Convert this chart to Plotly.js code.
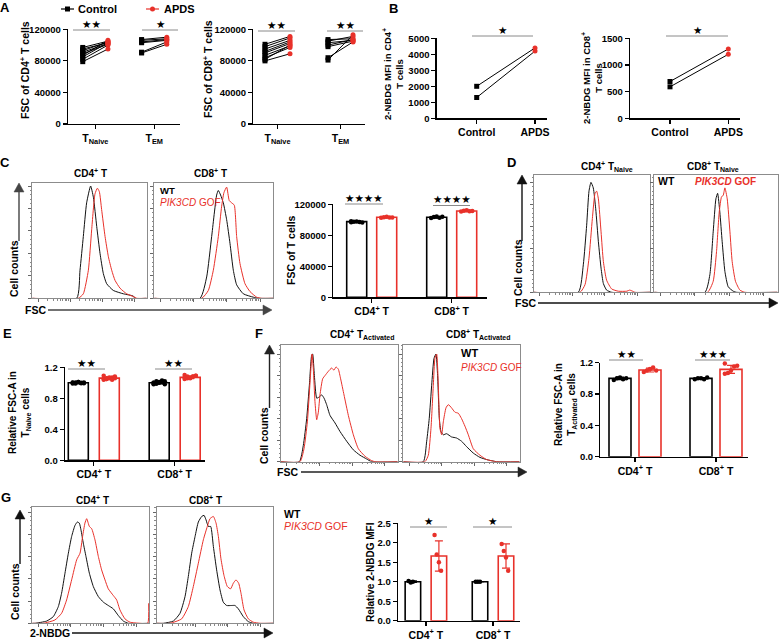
<!DOCTYPE html>
<html><head><meta charset="utf-8">
<script src="https://cdn.plot.ly/plotly-3.0.1.min.js"></script>
<style>html,body{margin:0;padding:0;background:#fff}</style>
</head><body><div id="chart" style="width:779px;height:640px"></div>
<script>
// ================= DATA =================
const aCats = ['T<sub>Naive</sub>', 'T<sub>EM</sub>'];
const aCd4NaiveCtrl = [97000, 95000, 93000, 91000, 89000, 87000, 85000, 82000, 79000];
const aCd4NaiveApds = [105000, 103000, 104000, 102000, 101000, 106000, 103000, 100000, 95000];
const aCd4EmCtrl = [107000, 106000, 104000, 103000, 91000, 90000];
const aCd4EmApds = [110000, 108000, 107000, 106000, 104000, 101000];
const aCd8NaiveCtrl = [101000, 98000, 95000, 92000, 90000, 87000, 84000, 82000, 80000];
const aCd8NaiveApds = [111000, 109000, 106000, 104000, 102000, 99000, 97000, 100000, 89000];
const aCd8EmCtrl = [107000, 105000, 103000, 100000, 98000, 84000, 81000];
const aCd8EmApds = [108000, 111000, 106000, 107000, 105000, 104000, 113000];
const aTicks = [0, 40000, 80000, 120000];
const bCats = ['Control', 'APDS'];
const bCd4Ctrl = [2000, 1300];
const bCd4Apds = [4400, 4200];
const bCd8Ctrl = [690, 590];
const bCd8Apds = [1300, 1200];
const bCd4Ticks = [0, 1000, 2000, 3000, 4000, 5000];
const bCd8Ticks = [0, 500, 1000, 1500];
const barCats = ['CD4<sup>+</sup> T', 'CD8<sup>+</sup> T'];
const cWtMean = [97600, 103200], cWtSd = [900, 1000];
const cGofMean = [103200, 111400], cGofSd = [900, 900];
const cCd4WtPts = [96800, 97400, 97900, 97200, 96600, 98200];
const cCd4GofPts = [102500, 103400, 103800, 102900, 103100];
const cCd8WtPts = [102200, 103500, 104300, 102800, 103900];
const cCd8GofPts = [110600, 111800, 112300, 110900, 111400];
const cTicks = [0, 40000, 80000, 120000];
const eWtMean = [1.0, 1.0], eWtSd = [0.01, 0.015];
const eGofMean = [1.06, 1.07], eGofSd = [0.015, 0.015];
const eCd4WtPts = [0.99, 1.0, 1.01, 0.995, 1.005, 1.0, 0.99, 1.01, 1.0, 0.995, 1.005, 1.0];
const eCd4GofPts = [1.04, 1.05, 1.06, 1.07, 1.08, 1.05, 1.06, 1.07, 1.04, 1.06, 1.09, 1.05];
const eCd8WtPts = [0.98, 0.99, 1.0, 1.01, 1.02, 1.0, 0.99, 1.01, 1.03, 0.98, 1.0, 1.02];
const eCd8GofPts = [1.05, 1.06, 1.07, 1.08, 1.09, 1.1, 1.07, 1.06, 1.08, 1.09, 1.07, 1.08];
const eTicks = [0, 0.4, 0.8, 1.2], eTickText = ['0.0', '0.4', '0.8', '1.2'];
const fWtMean = [1.0, 1.0], fWtSd = [0.015, 0.01];
const fGofMean = [1.106, 1.115], fGofSd = [0.025, 0.05];
const fCd4WtPts = [0.98, 1.0, 1.01, 0.99, 1.0];
const fCd4GofPts = [1.08, 1.1, 1.12, 1.14, 1.1];
const fCd8WtPts = [0.99, 1.0, 1.0, 0.99, 1.01];
const fCd8GofPts = [1.06, 1.07, 1.10, 1.15, 1.16, 1.19];
const fTicks = [0, 0.4, 0.8, 1.2], fTickText = ['0.0', '0.4', '0.8', '1.2'];
const gWtMean = [1.0, 1.0], gWtSd = [0.02, 0.0];
const gGofMean = [1.66, 1.66], gGofSd = [0.39, 0.31];
const gCd4WtPts = [1.02, 0.98, 1.0];
const gCd4GofPts = [2.2, 1.7, 1.5, 1.28];
const gCd8WtPts = [1.0, 1.0, 1.0];
const gCd8GofPts = [1.97, 1.79, 1.62, 1.28];
const gTicks = [0, 0.5, 1, 1.5, 2, 2.5], gTickText = ['0.0', '0.5', '1.0', '1.5', '2.0', '2.5'];
const cCd4WtX = [0,38.8,41.7,44.6,47.5,51.0,53.4,56.3,59.2,62.1,65.0,70.8,79.6,88.3,89.8,100];
const cCd4WtY = [0,0,25,55,85,100,90,64,40,22,13,7,4,2,0,0];
const cCd4GofX = [0,40.2,44.6,49.0,51.9,54.8,56.9,58.6,60.6,63.6,66.5,69.4,72.3,76.7,82.5,88.3,91.3,100];
const cCd4GofY = [0,0,4,25,61,93,98,95,79,55,37,25,16,9,4,1.5,0,0];
const cCd8WtX = [0,38.4,44.0,48.2,52.4,53.8,55.7,58.0,60.8,63.6,66.4,69.2,74.8,83.2,87.4,100];
const cCd8WtY = [0,0,19,55,92,96,92,85,70,49,25,12,4,1,0,0];
const cCd8GofX = [0,39.8,45.4,49.6,53.8,56.6,58.5,60.8,63.0,65.0,67.2,69.2,72.0,76.2,80.4,86.0,90.2,100];
const cCd8GofY = [0,0,7,25,55,82,94,99,87,85,83,55,31,13,6,1,0,0];
const dCd4WtX = [0,38.2,42.5,45.4,47.4,49.1,51.1,53.2,55.5,57.8,59.8,62.6,67.0,100];
const dCd4WtY = [0,0,25,61,92,100,95,76,46,22,8,2,0,0];
const dCd4GofX = [0,39.7,44.0,47.4,50.3,52.6,54.0,55.5,57.8,59.8,62.6,67.0,72.7,80.0,82.5,85.0,87.0,100];
const dCd4GofY = [0,0,7,31,67,90,92,85,55,28,11,3,1,1,2,1,0,0];
const dCd8WtX = [0,41.1,45.1,47.8,50.0,51.4,53.2,55.1,57.3,60.0,64.1,66.8,100];
const dCd8WtY = [0,0,16,55,85,90,73,46,19,5,1,0,0];
const dCd8GofX = [0,43.2,47.8,50.5,52.7,54.6,55.9,57.3,59.2,61.4,63.2,65.9,69.5,73.5,100];
const dCd8GofY = [0,0,10,37,73,87,88,95,85,55,28,10,2,0,0];
const fCd4WtX = [0,15.7,19.1,22.0,24.3,26.3,27.1,28.6,30.6,32.6,34.9,36.9,39.1,42.0,46.3,50.6,56.3,62.0,67.7,73.4,77.7,100];
const fCd4WtY = [0,0,15,40,71,99,100,80,59,60,62,59,53,43,36,28,19,11,6,2.5,0,0];
const fCd4GofX = [0,16.3,19.7,22.6,24.9,26.6,27.7,29.1,30.6,32.0,33.4,35.7,37.7,40.6,43.4,45.4,47.1,49.1,51.1,54.0,57.7,62.0,66.3,72.0,77.7,80.6,100];
const fCd4GofY = [0,0,12,37,74,100,86,56,39,46,62,77,80,84,87,85,88,86,77,62,43,25,12,5,1,0,0];
const fCd8WtX = [0,17.2,20.1,22.3,24.4,26.4,28.1,29.5,31.0,32.4,34.4,37.2,41.5,45.8,50.1,54.4,60.2,65.9,71.6,80.2,100];
const fCd8WtY = [0,0,19,40,71,96,100,80,40,28,25,26,23,22,19,14,8,4,2,0,0];
const fCd8GofX = [0,18.6,21.5,23.8,25.8,27.2,28.7,30.1,31.5,33.0,34.4,36.7,38.7,41.5,44.4,47.3,50.1,53.0,55.9,60.2,65.9,71.6,80.2,100];
const fCd8GofY = [0,0,6,31,71,96,100,71,31,25,37,50,53,50,46,45,40,33,25,12,6,2,0,0];
const gCd4WtX = [0,2.3,12.3,18.0,22.3,25.1,28.0,30.9,33.7,36.6,38.6,40.3,41.7,43.7,46.0,48.9,52.3,56.6,60.9,65.1,69.4,73.7,78.0,82.3,100];
const gCd4WtY = [0,0,2,6,15,27,45,63,78,88,91,90,84,72,60,45,33,24,19,16,13,7,2,0,0];
const gCd4GofX = [0,9.4,19.4,25.1,29.4,33.7,38.0,40.9,43.1,45.1,46.6,48.9,50.9,53.7,56.6,59.4,62.3,65.1,69.4,72.3,75.1,79.4,83.7,92.3,98.9,99.7];
const gCd4GofY = [0,0,3,9,21,39,57,63,78,90,94,87,85,75,60,48,39,31,25,21,12,4,1,0,0,18];
const gCd8WtX = [0,5.7,14.3,20.0,24.3,27.1,30.0,32.9,35.7,38.6,40.6,42.3,44.3,46.3,48.6,51.4,54.3,57.1,60.0,64.3,67.1,70.0,74.3,78.6,82.9,100];
const gCd8WtY = [0,0,2,9,24,42,63,78,91,96,97,93,87,87,69,48,30,19,16,16,16,13,6,1.5,0,0];
const gCd8GofX = [0,11.4,21.4,27.1,31.4,35.7,40.0,43.4,45.7,48.6,50.9,52.9,55.1,57.7,60.6,63.4,65.7,68.0,70.3,72.3,74.9,78.6,82.9,88.6,100];
const gCd8GofY = [0,0,4,15,33,54,75,87,94,96,90,78,58,43,33,31,36,39,36,27,12,4,1,0,0];

// ================= LAYOUT HELPERS =================
const W = 779, H = 640;
const RED = '#e8312a', BLK = '#000000';
const FONT = 'Liberation Sans, Arial, Helvetica, sans-serif';
const fx = p => p / W, fy = p => 1 - p / H;
const fontB = (s, c) => ({family: FONT, size: s, color: c || '#000', weight: 'bold'});
const fontN = (s, c) => ({family: FONT, size: s, color: c || '#000'});
const layout = {width: W, height: H, margin: {l: 0, r: 0, t: 0, b: 0}, paper_bgcolor: '#fff',
  plot_bgcolor: 'rgba(0,0,0,0)', showlegend: false, barmode: 'overlay',
  font: {family: FONT, color: '#000', size: 10}, shapes: [], annotations: []};
const traces = [];
const axKey = (n, a) => a + 'axis' + (n === 1 ? '' : n);
const ref = (n, a) => a + (n === 1 ? '' : n);
function setAxes(n, x0, x1, ytop, ybot, xo, yo) {
  layout[axKey(n, 'x')] = Object.assign({domain: [fx(x0), fx(x1)], anchor: ref(n, 'y'), showgrid: false, zeroline: false}, xo);
  layout[axKey(n, 'y')] = Object.assign({domain: [fy(ybot), fy(ytop)], anchor: ref(n, 'x'), showgrid: false, zeroline: false}, yo);
}
const gp = (o) => Object.assign({showline: true, linecolor: '#000', linewidth: 1.3, ticks: 'outside', ticklen: 4,
  tickwidth: 1.2, tickcolor: '#000', tickfont: fontB(9.5), tickmode: 'array'}, o);
function ann(text, x, y, o) {
  layout.annotations.push(Object.assign({text: text, x: fx(x), y: fy(y), xref: 'paper', yref: 'paper',
    showarrow: false, font: fontB(10), xanchor: 'center', yanchor: 'middle'}, o || {}));
}
function hline(x0, x1, y, col, w) {
  layout.shapes.push({type: 'line', xref: 'paper', yref: 'paper', x0: fx(x0), x1: fx(x1), y0: fy(y), y1: fy(y),
    line: {color: col || '#8a8a8a', width: w || 1}});
}
function sig(x0, x1, y, stars) { hline(x0, x1, y); ann(stars, (x0 + x1) / 2, y - 6.5, {font: {family: 'DejaVu Sans', size: 10.5, color: '#000'}}); }
function arrowUp(x, yb, yt, col) {
  layout.shapes.push({type: 'line', xref: 'paper', yref: 'paper', x0: fx(x), x1: fx(x), y0: fy(yb), y1: fy(yt + 8), line: {color: col, width: 1.4}});
  layout.shapes.push({type: 'path', xref: 'paper', yref: 'paper', fillcolor: col, line: {color: col, width: 0.5},
    path: `M ${fx(x - 5)} ${fy(yt + 9)} L ${fx(x + 5)} ${fy(yt + 9)} L ${fx(x)} ${fy(yt)} Z`});
}
function arrowRight(y, x0, x1, col) {
  layout.shapes.push({type: 'line', xref: 'paper', yref: 'paper', x0: fx(x0), x1: fx(x1 - 8), y0: fy(y), y1: fy(y), line: {color: col, width: 1.4}});
  layout.shapes.push({type: 'path', xref: 'paper', yref: 'paper', fillcolor: col, line: {color: col, width: 0.5},
    path: `M ${fx(x1 - 9)} ${fy(y - 5)} L ${fx(x1 - 9)} ${fy(y + 5)} L ${fx(x1)} ${fy(y)} Z`});
}
function catRange(left, c1, c2, right) { const u = c2 - c1; return {range: [1 - (c1 - left) / u, 2 + (right - c2) / u], unit: u}; }

// ================= PANEL A & B =================
function paired(n, pos, ctrlLists, apdsLists, yRange, yTicks, cats, off) {
  const cr = catRange(pos.left, pos.c1, pos.c2, pos.right);
  const o = off / cr.unit;
  setAxes(n, pos.left, pos.right, pos.top, pos.bot,
    gp({range: cr.range, tickvals: [1, 2], ticktext: cats, tickfont: fontB(10.5)}),
    gp({range: yRange, tickvals: yTicks, ticktext: yTicks.map(String)}));
  const lx = [], ly = [], cx = [], cy = [], px = [], py = [];
  ctrlLists.forEach((lst, g) => {
    lst.forEach((v, i) => {
      const a = apdsLists[g][i];
      lx.push(g + 1 - o, g + 1 + o, null); ly.push(v, a, null);
      cx.push(g + 1 - o); cy.push(v); px.push(g + 1 + o); py.push(a);
    });
  });
  const xa = ref(n, 'x'), ya = ref(n, 'y');
  traces.push({type: 'scatter', mode: 'lines', x: lx, y: ly, xaxis: xa, yaxis: ya, line: {color: '#000', width: 1}, hoverinfo: 'skip', cliponaxis: false});
  traces.push({type: 'scatter', mode: 'markers', x: cx, y: cy, xaxis: xa, yaxis: ya, marker: {symbol: 'square', size: 5, color: BLK}, cliponaxis: false});
  traces.push({type: 'scatter', mode: 'markers', x: px, y: py, xaxis: xa, yaxis: ya, marker: {symbol: 'circle', size: 5, color: RED}, cliponaxis: false});
}
paired(1, {left: 68, right: 180, c1: 95.35, c2: 154.2, top: 29.3, bot: 124}, [aCd4NaiveCtrl, aCd4EmCtrl], [aCd4NaiveApds, aCd4EmApds], [0, 120000], aTicks, aCats, 12.6);
paired(2, {left: 253.3, right: 365, c1: 277.5, c2: 340.5, top: 29.3, bot: 124}, [aCd8NaiveCtrl, aCd8EmCtrl], [aCd8NaiveApds, aCd8EmApds], [0, 120000], aTicks, aCats, 12.5);
function pairedB(n, pos, ctrl, apds, yRange, yTicks) {
  const cr = catRange(pos.left, pos.c1, pos.c2, pos.right);
  setAxes(n, pos.left, pos.right, pos.top, pos.bot,
    gp({range: cr.range, tickvals: [1, 2], ticktext: bCats, tickfont: fontB(10.5)}),
    gp({range: yRange, tickvals: yTicks, ticktext: yTicks.map(String)}));
  const lx = [], ly = [];
  ctrl.forEach((v, i) => { lx.push(1, 2, null); ly.push(v, apds[i], null); });
  const xa = ref(n, 'x'), ya = ref(n, 'y');
  traces.push({type: 'scatter', mode: 'lines', x: lx, y: ly, xaxis: xa, yaxis: ya, line: {color: '#000', width: 1}, hoverinfo: 'skip'});
  traces.push({type: 'scatter', mode: 'markers', x: ctrl.map(() => 1), y: ctrl, xaxis: xa, yaxis: ya, marker: {symbol: 'square', size: 5, color: BLK}, cliponaxis: false});
  traces.push({type: 'scatter', mode: 'markers', x: apds.map(() => 2), y: apds, xaxis: xa, yaxis: ya, marker: {symbol: 'circle', size: 5, color: RED}, cliponaxis: false});
}
pairedB(3, {left: 436.7, right: 546.7, c1: 476.7, c2: 535, top: 38.3, bot: 118.3}, bCd4Ctrl, bCd4Apds, [0, 5000], bCd4Ticks);
pairedB(4, {left: 630, right: 740, c1: 670, c2: 728.3, top: 38.3, bot: 118.3}, bCd8Ctrl, bCd8Apds, [0, 1500], bCd8Ticks);

// ================= BAR CHARTS =================
function barChart(n, pos, wtMean, wtSd, gofMean, gofSd, pts, yRange, yTicks, yText) {
  const cr = catRange(pos.left, pos.c1, pos.c2, pos.right);
  const o = pos.off / cr.unit, bw = pos.bw / cr.unit;
  setAxes(n, pos.left, pos.right, pos.top, pos.bot,
    gp({range: cr.range, tickvals: [1, 2], ticktext: barCats, tickfont: fontB(10.5)}),
    gp({range: yRange, tickvals: yTicks, ticktext: yText}));
  const xa = ref(n, 'x'), ya = ref(n, 'y');
  [[wtMean, wtSd, -o, BLK], [gofMean, gofSd, o, RED]].forEach(([m, sd, d, col]) => {
    traces.push({type: 'bar', x: [1 + d, 2 + d], y: m, width: bw, xaxis: xa, yaxis: ya,
      marker: {color: 'rgba(255,255,255,0)', line: {color: col, width: 1.6}},
      error_y: {type: 'data', array: sd, color: col, thickness: 1.2, width: 4}});
  });
  pts.forEach((arr, k) => {
    const g = k >> 1, d = (k % 2 === 0) ? -o : o, col = (k % 2 === 0) ? BLK : RED;
    const xs = arr.map((v, i) => g + 1 + d + (((i % 5) - 2) / 2) * bw * 0.28);
    traces.push({type: 'scatter', mode: 'markers', x: xs, y: arr, xaxis: xa, yaxis: ya, marker: {size: 4.5, color: col}, cliponaxis: false});
  });
}
barChart(7, {left: 333.3, right: 486.7, c1: 371.7, c2: 451.7, off: 15, bw: 20, top: 204.3, bot: 297.3},
  cWtMean, cWtSd, cGofMean, cGofSd, [cCd4WtPts, cCd4GofPts, cCd8WtPts, cCd8GofPts], [0, 120000], cTicks, cTicks.map(String));
barChart(10, {left: 65, right: 205, c1: 93.8, c2: 174.7, off: 15.5, bw: 20, top: 367.3, bot: 460.3},
  eWtMean, eWtSd, eGofMean, eGofSd, [eCd4WtPts, eCd4GofPts, eCd8WtPts, eCd8GofPts], [0, 1.2], eTicks, eTickText);
barChart(13, {left: 600.3, right: 748, c1: 635, c2: 716, off: 15, bw: 22, top: 362.7, bot: 456.7},
  fWtMean, fWtSd, fGofMean, fGofSd, [fCd4WtPts, fCd4GofPts, fCd8WtPts, fCd8GofPts], [0, 1.2], fTicks, fTickText);
barChart(16, {left: 398, right: 520, c1: 425.9, c2: 493, off: 13, bw: 15.5, top: 523.3, bot: 620.7},
  gWtMean, gWtSd, gGofMean, gGofSd, [gCd4WtPts, gCd4GofPts, gCd8WtPts, gCd8GofPts], [0, 2.5], gTicks, gTickText);

// ================= HISTOGRAMS =================
const majX = [5, 33, 61, 89];
const minX = [];
[5, 33, 61].forEach(d => { for (let k = 2; k <= 9; k++) minX.push(d + 28 * Math.log10(k)); });
function hist(n, x0, x1, ytop, ybot, yMax, wt, gof) {
  setAxes(n, x0, x1, ytop, ybot,
    {range: [0, 100], showline: true, mirror: true, linecolor: '#8c8c8c', linewidth: 1, ticks: 'outside', ticklen: 3,
     tickcolor: '#666', tickmode: 'array', tickvals: majX, showticklabels: false,
     minor: {ticks: 'outside', tickmode: 'array', tickvals: minX, ticklen: 1.5, tickcolor: '#888'}},
    {range: [0, yMax], showline: true, mirror: true, linecolor: '#8c8c8c', linewidth: 1, ticks: 'outside', ticklen: 3,
     tickcolor: '#666', tickmode: 'array', tickvals: [0, 20, 40, 60, 80, 100], showticklabels: false,
     minor: {ticks: 'outside', dtick: 4, ticklen: 1.5, tickcolor: '#888'}});
  const xa = ref(n, 'x'), ya = ref(n, 'y');
  traces.push({type: 'scatter', mode: 'lines', x: wt[0], y: wt[1], xaxis: xa, yaxis: ya, line: {color: '#111', width: 1, shape: 'spline', smoothing: 0.5}, hoverinfo: 'skip'});
  traces.push({type: 'scatter', mode: 'lines', x: gof[0], y: gof[1], xaxis: xa, yaxis: ya, line: {color: RED, width: 1, shape: 'spline', smoothing: 0.5}, hoverinfo: 'skip'});
}
hist(5, 32.3, 146.7, 183.3, 298.3, 102.4, [cCd4WtX, cCd4WtY], [cCd4GofX, cCd4GofY]);
hist(6, 154.3, 273.3, 183.3, 298.3, 102.4, [cCd8WtX, cCd8WtY], [cCd8GofX, cCd8GofY]);
hist(8, 534, 650, 175, 292.3, 106.7, [dCd4WtX, dCd4WtY], [dCd4GofX, dCd4GofY]);
hist(9, 654.3, 777.5, 175, 292.3, 106.7, [dCd8WtX, dCd8WtY], [dCd8GofX, dCd8GofY]);
hist(11, 281, 397.7, 345, 461.7, 108.4, [fCd4WtX, fCd4WtY], [fCd4GofX, fCd4GofY]);
hist(12, 403.3, 519.6, 345, 461.7, 108.4, [fCd8WtX, fCd8WtY], [fCd8GofX, fCd8GofY]);
hist(14, 32.3, 149, 507, 623.3, 104.5, [gCd4WtX, gCd4WtY], [gCd4GofX, gCd4GofY]);
hist(15, 156.7, 273.3, 507, 623.3, 104.5, [gCd8WtX, gCd8WtY], [gCd8GofX, gCd8GofY]);

// ================= TEXT & DECORATION =================
[['A', 5, 7], ['B', 394, 9], ['C', 5, 162], ['D', 511, 162], ['E', 7, 333], ['F', 259, 333], ['G', 6, 497]]
  .forEach(([t, x, y]) => ann(t, x, y, {font: fontB(13)}));
hline(61, 74, 9, '#000', 1.2);
layout.shapes.push({type: 'rect', xref: 'paper', yref: 'paper', x0: fx(65), x1: fx(70), y0: fy(11.5), y1: fy(6.5), fillcolor: '#000', line: {width: 0}});
ann('Control', 76, 9, {xanchor: 'left', font: fontB(11)});
hline(146, 159, 9, RED, 1.2);
layout.shapes.push({type: 'circle', xref: 'paper', yref: 'paper', x0: fx(150), x1: fx(155), y0: fy(11.5), y1: fy(6.5), fillcolor: RED, line: {width: 0}});
ann('APDS', 162, 9, {xanchor: 'left', font: fontB(11)});
ann('FSC of CD4<sup>+</sup> T cells', 24, 70, {textangle: -90, font: fontB(10.5)});
ann('FSC of CD8<sup>+</sup> T cells', 208, 69, {textangle: -90, font: fontB(10.5)});
ann('2-NBDG MFI in CD4<sup>+</sup><br>T cells', 393, 74, {textangle: -90, font: fontB(9.5)});
ann('2-NBDG MFI in CD8<sup>+</sup><br>T cells', 592, 78, {textangle: -90, font: fontB(9.5)});
ann('FSC of T cells', 291, 250, {textangle: -90, font: fontB(10.5)});
ann('Relative FSC-A in<br>T<sub>Naive</sub> cells', 19, 413, {textangle: -90, font: fontB(10)});
ann('Relative FSC-A in<br>T<sub>Activated</sub> cells', 565, 405, {textangle: -90, font: fontB(10)});
ann('Relative 2-NBDG MFI', 370, 572, {textangle: -90, font: fontB(10)});
sig(73, 110, 30, '★★'); sig(142, 178, 30, '★');
sig(258, 295, 31, '★★'); sig(327, 363, 31, '★★');
sig(472, 533, 36, '★'); sig(666, 728, 36, '★');
sig(345, 383, 204, '★★★★'); sig(433, 470, 205.5, '★★★★');
sig(68, 105, 369, '★★'); sig(155, 192, 369, '★★');
sig(609, 643, 360, '★★'); sig(695, 730, 360, '★★★');
sig(410, 447, 527, '★'); sig(473, 512, 527, '★');
ann('CD4<sup>+</sup> T', 90, 173); ann('CD8<sup>+</sup> T', 210, 173);
ann('CD4<sup>+</sup> T<sub>Naive</sub>', 607, 166); ann('CD8<sup>+</sup> T<sub>Naive</sub>', 713, 166);
ann('CD4<sup>+</sup> T<sub>Activated</sub>', 362, 334); ann('CD8<sup>+</sup> T<sub>Activated</sub>', 478, 334);
ann('CD4<sup>+</sup> T', 92, 500); ann('CD8<sup>+</sup> T', 205, 500);
ann('WT', 158, 190, {xanchor: 'left', font: fontB(9.5)});
ann('<i>PIK3CD</i> GOF', 158, 202, {xanchor: 'left', font: fontN(10, RED)});
ann('WT', 656, 181, {xanchor: 'left', font: fontB(10.5)});
ann('<i>PIK3CD</i> GOF', 693, 181, {xanchor: 'left', font: fontB(10, RED)});
ann('WT', 459, 353, {xanchor: 'left', font: fontB(11)});
ann('<i>PIK3CD</i> GOF', 459, 367, {xanchor: 'left', font: fontN(10, RED)});
ann('WT', 282, 514, {xanchor: 'left', font: fontB(10.5)});
ann('<i>PIK3CD</i> GOF', 282, 526, {xanchor: 'left', font: fontN(10.5, RED)});
ann('Cell counts', 14, 269, {textangle: -90, font: fontB(10.5)}); arrowUp(19, 241, 183, '#444');
ann('FSC', 35, 310, {font: fontB(10.5)}); arrowRight(310, 48, 272, '#444');
ann('Cell counts', 518, 268, {textangle: -90, font: fontB(10.5)}); arrowUp(522, 241, 175, '#111');
ann('FSC', 525, 303, {font: fontB(10.5)}); arrowRight(303, 538, 778, '#111');
ann('Cell counts', 264, 436, {textangle: -90, font: fontB(10.5)}); arrowUp(269.5, 408, 345, '#222');
ann('FSC', 287, 472, {font: fontB(10.5)}); arrowRight(472, 301, 527, '#222');
ann('Cell counts', 15, 592, {textangle: -90, font: fontB(10.5)}); arrowUp(20, 564, 510, '#111');
ann('2-NBDG', 50, 633, {font: fontB(10.5)}); arrowRight(633, 72, 273, '#111');

Plotly.newPlot('chart', traces, layout, {displayModeBar: false, staticPlot: true});
</script>
</body></html>
